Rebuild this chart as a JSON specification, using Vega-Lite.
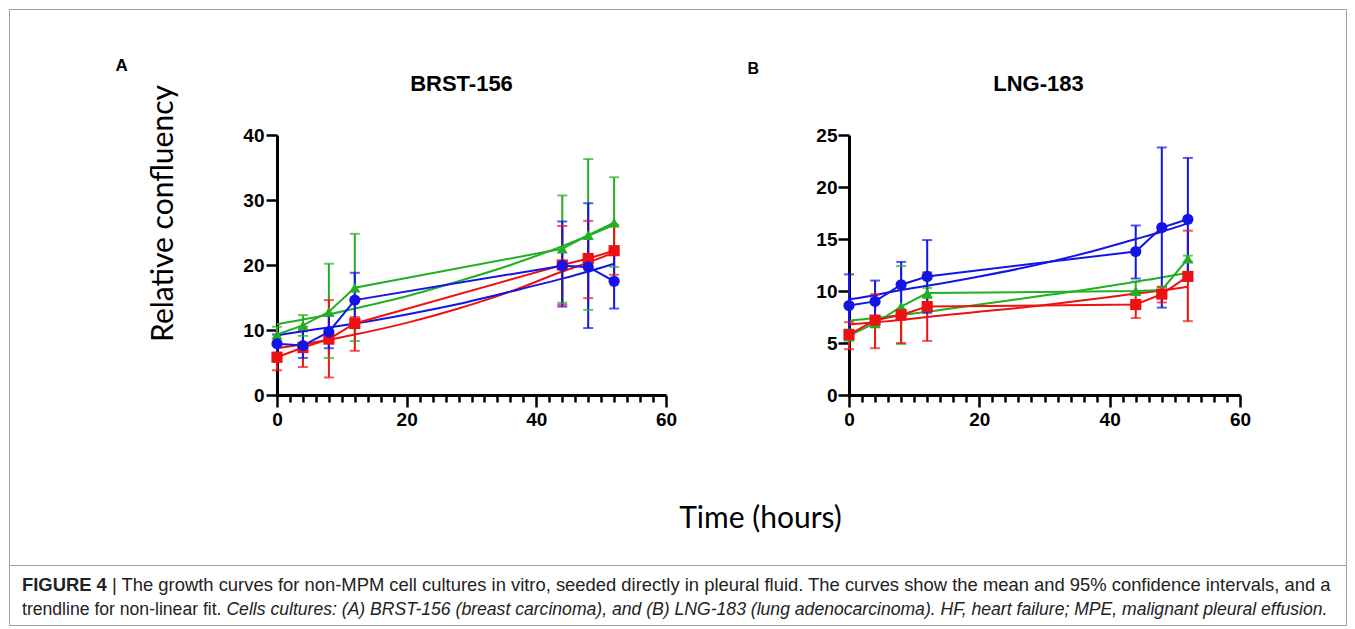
{
  "$schema": "https://vega.github.io/schema/vega-lite/v6.json",
  "background": "white",
  "padding": {"left": 6, "top": 6, "right": 0, "bottom": 0},
  "config": {"view": {"stroke": null}, "axis": {"grid": false}},
  "datasets": {
    "pts": [
      {"p": "A", "s": "g", "t": 0, "m": 9.3, "lo": 8.2, "hi": 10.5},
      {"p": "A", "s": "g", "t": 4, "m": 10.7, "lo": 9.1, "hi": 12.3},
      {"p": "A", "s": "g", "t": 8, "m": 12.8, "lo": 5.7, "hi": 20.2},
      {"p": "A", "s": "g", "t": 12, "m": 16.5, "lo": 8.3, "hi": 24.8},
      {"p": "A", "s": "g", "t": 44, "m": 22.5, "lo": 14.2, "hi": 30.7},
      {"p": "A", "s": "g", "t": 48, "m": 24.6, "lo": 13.1, "hi": 36.3},
      {"p": "A", "s": "g", "t": 52, "m": 26.5, "lo": 19.7, "hi": 33.5},
      {"p": "A", "s": "r", "t": 0, "m": 5.8, "lo": 3.8, "hi": 7.8},
      {"p": "A", "s": "r", "t": 4, "m": 7.3, "lo": 4.3, "hi": 10.5},
      {"p": "A", "s": "r", "t": 8, "m": 8.6, "lo": 2.7, "hi": 14.6},
      {"p": "A", "s": "r", "t": 12, "m": 11.0, "lo": 6.8, "hi": 12.0},
      {"p": "A", "s": "r", "t": 44, "m": 20.0, "lo": 13.9, "hi": 26.0},
      {"p": "A", "s": "r", "t": 48, "m": 21.0, "lo": 14.9, "hi": 26.8},
      {"p": "A", "s": "r", "t": 52, "m": 22.2, "lo": 18.5, "hi": 26.2},
      {"p": "A", "s": "b", "t": 0, "m": 7.9, "lo": 6.5, "hi": 9.3},
      {"p": "A", "s": "b", "t": 4, "m": 7.6, "lo": 5.7, "hi": 9.8},
      {"p": "A", "s": "b", "t": 8, "m": 9.7, "lo": 7.2, "hi": 12.2},
      {"p": "A", "s": "b", "t": 12, "m": 14.6, "lo": 10.3, "hi": 18.8},
      {"p": "A", "s": "b", "t": 44, "m": 19.9, "lo": 13.6, "hi": 26.7},
      {"p": "A", "s": "b", "t": 48, "m": 19.7, "lo": 10.3, "hi": 29.5},
      {"p": "A", "s": "b", "t": 52, "m": 17.5, "lo": 13.3, "hi": 21.8},
      {"p": "B", "s": "g", "t": 0, "m": 5.7, "lo": 5.2, "hi": 6.3},
      {"p": "B", "s": "g", "t": 4, "m": 6.9, "lo": 6.5, "hi": 7.4},
      {"p": "B", "s": "g", "t": 8, "m": 8.5, "lo": 4.9, "hi": 12.4},
      {"p": "B", "s": "g", "t": 12, "m": 9.8, "lo": 9.3, "hi": 10.3},
      {"p": "B", "s": "g", "t": 44, "m": 10.0, "lo": 9.6, "hi": 10.9},
      {"p": "B", "s": "g", "t": 48, "m": 10.1, "lo": 9.8, "hi": 10.4},
      {"p": "B", "s": "g", "t": 52, "m": 13.1, "lo": 12.8, "hi": 13.4},
      {"p": "B", "s": "r", "t": 0, "m": 5.8, "lo": 4.4, "hi": 7.0},
      {"p": "B", "s": "r", "t": 4, "m": 7.2, "lo": 4.5, "hi": 9.7},
      {"p": "B", "s": "r", "t": 8, "m": 7.7, "lo": 5.0, "hi": 8.2},
      {"p": "B", "s": "r", "t": 12, "m": 8.5, "lo": 5.2, "hi": 11.8},
      {"p": "B", "s": "r", "t": 44, "m": 8.7, "lo": 7.4, "hi": 9.9},
      {"p": "B", "s": "r", "t": 48, "m": 9.7, "lo": 8.9, "hi": 10.4},
      {"p": "B", "s": "r", "t": 52, "m": 11.4, "lo": 7.1, "hi": 15.8},
      {"p": "B", "s": "b", "t": 0, "m": 8.6, "lo": 5.5, "hi": 11.6},
      {"p": "B", "s": "b", "t": 4, "m": 9.0, "lo": 7.0, "hi": 11.0},
      {"p": "B", "s": "b", "t": 8, "m": 10.6, "lo": 8.2, "hi": 12.8},
      {"p": "B", "s": "b", "t": 12, "m": 11.4, "lo": 7.9, "hi": 14.9},
      {"p": "B", "s": "b", "t": 44, "m": 13.8, "lo": 11.2, "hi": 16.3},
      {"p": "B", "s": "b", "t": 48, "m": 16.1, "lo": 8.4, "hi": 23.8},
      {"p": "B", "s": "b", "t": 52, "m": 16.9, "lo": 11.0, "hi": 22.8}
    ],
    "trend": [
      {"p": "A", "s": "g", "t": 0, "m": 10.9}, {"p": "A", "s": "g", "t": 4, "m": 11.6}, {"p": "A", "s": "g", "t": 8, "m": 12.4}, {"p": "A", "s": "g", "t": 12, "m": 13.3}, {"p": "A", "s": "g", "t": 20, "m": 15.2}, {"p": "A", "s": "g", "t": 28, "m": 17.5}, {"p": "A", "s": "g", "t": 36, "m": 20.0}, {"p": "A", "s": "g", "t": 44, "m": 22.9}, {"p": "A", "s": "g", "t": 48, "m": 24.5}, {"p": "A", "s": "g", "t": 52, "m": 26.2},
      {"p": "A", "s": "r", "t": 0, "m": 7.2}, {"p": "A", "s": "r", "t": 4, "m": 7.8}, {"p": "A", "s": "r", "t": 8, "m": 8.5}, {"p": "A", "s": "r", "t": 12, "m": 9.3}, {"p": "A", "s": "r", "t": 20, "m": 11.1}, {"p": "A", "s": "r", "t": 28, "m": 13.3}, {"p": "A", "s": "r", "t": 36, "m": 15.9}, {"p": "A", "s": "r", "t": 44, "m": 19.0}, {"p": "A", "s": "r", "t": 48, "m": 20.4}, {"p": "A", "s": "r", "t": 52, "m": 21.9},
      {"p": "A", "s": "b", "t": 0, "m": 9.2}, {"p": "A", "s": "b", "t": 4, "m": 9.8}, {"p": "A", "s": "b", "t": 8, "m": 10.4}, {"p": "A", "s": "b", "t": 12, "m": 11.0}, {"p": "A", "s": "b", "t": 20, "m": 12.4}, {"p": "A", "s": "b", "t": 28, "m": 14.0}, {"p": "A", "s": "b", "t": 36, "m": 15.9}, {"p": "A", "s": "b", "t": 44, "m": 17.9}, {"p": "A", "s": "b", "t": 48, "m": 19.0}, {"p": "A", "s": "b", "t": 52, "m": 20.2},
      {"p": "B", "s": "g", "t": 0, "m": 7.15}, {"p": "B", "s": "g", "t": 4, "m": 7.4}, {"p": "B", "s": "g", "t": 8, "m": 7.7}, {"p": "B", "s": "g", "t": 12, "m": 8.0}, {"p": "B", "s": "g", "t": 20, "m": 8.7}, {"p": "B", "s": "g", "t": 28, "m": 9.4}, {"p": "B", "s": "g", "t": 36, "m": 10.1}, {"p": "B", "s": "g", "t": 44, "m": 10.9}, {"p": "B", "s": "g", "t": 48, "m": 11.3}, {"p": "B", "s": "g", "t": 52, "m": 11.75},
      {"p": "B", "s": "r", "t": 0, "m": 6.77}, {"p": "B", "s": "r", "t": 4, "m": 7.0}, {"p": "B", "s": "r", "t": 8, "m": 7.2}, {"p": "B", "s": "r", "t": 12, "m": 7.5}, {"p": "B", "s": "r", "t": 20, "m": 8.0}, {"p": "B", "s": "r", "t": 28, "m": 8.5}, {"p": "B", "s": "r", "t": 36, "m": 9.1}, {"p": "B", "s": "r", "t": 44, "m": 9.75}, {"p": "B", "s": "r", "t": 48, "m": 10.05}, {"p": "B", "s": "r", "t": 52, "m": 10.4},
      {"p": "B", "s": "b", "t": 0, "m": 9.2}, {"p": "B", "s": "b", "t": 4, "m": 9.6}, {"p": "B", "s": "b", "t": 8, "m": 10.1}, {"p": "B", "s": "b", "t": 12, "m": 10.5}, {"p": "B", "s": "b", "t": 20, "m": 11.4}, {"p": "B", "s": "b", "t": 28, "m": 12.4}, {"p": "B", "s": "b", "t": 36, "m": 13.6}, {"p": "B", "s": "b", "t": 44, "m": 15.0}, {"p": "B", "s": "b", "t": 48, "m": 15.7}, {"p": "B", "s": "b", "t": 52, "m": 16.5}
    ],
    "caption": [
      {"line": 1, "part": 1, "text": "FIGURE 4"},
      {"line": 1, "part": 2, "text": "| The growth curves for non-MPM cell cultures in vitro, seeded directly in pleural fluid. The curves show the mean and 95% confidence intervals, and a"},
      {"line": 2, "part": 1, "text": "trendline for non-linear fit."},
      {"line": 2, "part": 2, "text": "Cells cultures: (A) BRST-156 (breast carcinoma), and (B) LNG-183 (lung adenocarcinoma). HF, heart failure; MPE, malignant pleural effusion."}
    ]
  },
  "bounds": "flush",
  "spacing": 430,
  "vconcat": [
    {
      "bounds": "flush",
      "spacing": 183,
      "hconcat": [
        {
          "width": 85,
          "height": 260,
          "data": {"values": [{"k": 0}, {"k": 1}]},
          "resolve": {"axis": {"y": "independent"}},
          "layer": [
            {
              "mark": {"type": "point", "opacity": 0},
              "encoding": {
                "x": {
                  "field": "k", "type": "quantitative",
                  "scale": {"domain": [0, 1], "range": [0, 1337]},
                  "axis": {"orient": "top", "offset": 126, "domainColor": "#a0a0a0", "domainWidth": 1, "ticks": false, "labels": false, "title": null}
                },
                "y": {
                  "field": "k", "type": "quantitative",
                  "scale": {"domain": [0, 1], "range": [430, -126]},
                  "axis": {
                    "orient": "left", "domainColor": "#a0a0a0", "domainWidth": 1, "ticks": false, "labels": false,
                    "title": "A", "titleFont": "Liberation Sans", "titleFontSize": 17, "titleFontWeight": "bold", "titleColor": "black",
                    "titleAngle": 0, "titleX": 106, "titleY": -65, "titleAlign": "left", "titleBaseline": "alphabetic"
                  }
                }
              }
            },
            {
              "mark": {"type": "point", "opacity": 0},
              "encoding": {
                "y": {
                  "field": "k", "type": "quantitative",
                  "scale": {"domain": [0, 1], "range": [430, -126]},
                  "axis": {"orient": "right", "offset": 1252, "domainColor": "#a0a0a0", "domainWidth": 1, "ticks": false, "labels": false, "title": null}
                }
              }
            }
          ]
        },
        {
          "width": 389,
          "height": 260,
          "title": {"text": "BRST-156", "anchor": "middle", "frame": "group", "dx": -10, "offset": -28.5, "baseline": "alphabetic", "font": "Liberation Sans", "fontSize": 22, "fontWeight": "bold", "color": "black"},
          "encoding": {
            "x": {
              "field": "t", "type": "quantitative",
              "scale": {"domain": [0, 60], "nice": false, "zero": false},
              "axis": {
                "values": [0, 2, 4, 6, 8, 10, 12, 14, 16, 18, 20, 22, 24, 26, 28, 30, 32, 34, 36, 38, 40, 42, 44, 46, 48, 50, 52, 54, 56, 58, 60],
                "labelExpr": "datum.value % 20 === 0 ? datum.label : ''",
                "labelOverlap": false, "labelFlush": false,
                "tickSize": {"condition": {"test": "datum.value % 20 === 0", "value": 12}, "value": 7},
                "tickWidth": 2.5, "tickColor": "black", "domainColor": "black", "domainWidth": 3,
                "labelFont": "Liberation Sans", "labelFontSize": 19, "labelFontWeight": "bold", "labelColor": "black", "labelPadding": 3,
                "title": "Time (hours)", "titleFont": "Lato", "titleFontSize": 30, "titleFontWeight": "normal", "titleColor": "black",
                "titleX": 483, "titleY": 132, "titleAlign": "center", "titleBaseline": "alphabetic"
              }
            },
            "y": {
              "field": "m", "type": "quantitative",
              "scale": {"domain": [0, 40], "nice": false},
              "axis": {
                "values": [0, 10, 20, 30, 40], "tickSize": 11, "tickWidth": 2.5, "tickColor": "black", "domainColor": "black", "domainWidth": 3,
                "labelFont": "Liberation Sans", "labelFontSize": 19, "labelFontWeight": "bold", "labelColor": "black", "labelPadding": 2,
                "title": "Relative confluency", "titleFont": "Lato", "titleFontSize": 30, "titleFontWeight": "normal", "titleColor": "black",
                "titleAngle": -90, "titleX": -105, "titleY": 78, "titleAlign": "center", "titleBaseline": "alphabetic"
              }
            },
            "color": {"field": "s", "type": "nominal", "scale": {"domain": ["g", "r", "b"], "range": ["#22b022", "#ee1111", "#1414e6"]}, "legend": null}
          },
          "layer": [
            {
              "data": {"name": "trend"},
              "transform": [{"filter": "datum.p === 'A'"}],
              "mark": {"type": "line", "strokeWidth": 2, "interpolate": "monotone"}
            },
            {
              "data": {"name": "pts"},
              "transform": [{"filter": "datum.p === 'A'"}],
              "mark": {"type": "rule", "strokeWidth": 2},
              "encoding": {
                "y": {"field": "lo", "type": "quantitative", "scale": {"domain": [0, 40], "nice": false}, "title": "Relative confluency"},
                "y2": {"field": "hi"}
              }
            },
            {
              "data": {"name": "pts"},
              "transform": [{"filter": "datum.p === 'A'"}],
              "mark": {"type": "tick", "orient": "horizontal", "size": 10, "thickness": 2},
              "encoding": {
                "y": {"field": "lo", "type": "quantitative", "scale": {"domain": [0, 40], "nice": false}, "title": "Relative confluency"}
              }
            },
            {
              "data": {"name": "pts"},
              "transform": [{"filter": "datum.p === 'A'"}],
              "mark": {"type": "tick", "orient": "horizontal", "size": 10, "thickness": 2},
              "encoding": {
                "y": {"field": "hi", "type": "quantitative", "scale": {"domain": [0, 40], "nice": false}, "title": "Relative confluency"}
              }
            },
            {
              "data": {"name": "pts"},
              "transform": [{"filter": "datum.p === 'A'"}],
              "mark": {"type": "line", "strokeWidth": 2}
            },
            {
              "data": {"name": "pts"},
              "transform": [{"filter": "datum.p === 'A'"}],
              "mark": {"type": "point", "filled": true, "opacity": 1, "size": 125},
              "encoding": {
                "shape": {"field": "s", "type": "nominal", "scale": {"domain": ["g", "r", "b"], "range": ["triangle-up", "square", "circle"]}, "legend": null}
              }
            }
          ]
        },
        {
          "width": 391,
          "height": 260,
          "title": {"text": "LNG-183", "anchor": "middle", "frame": "group", "dx": -6, "offset": -52.5, "baseline": "alphabetic", "font": "Liberation Sans", "fontSize": 22, "fontWeight": "bold", "color": "black"},
          "encoding": {
            "x": {
              "field": "t", "type": "quantitative",
              "scale": {"domain": [0, 60], "nice": false, "zero": false},
              "axis": {
                "values": [0, 2, 4, 6, 8, 10, 12, 14, 16, 18, 20, 22, 24, 26, 28, 30, 32, 34, 36, 38, 40, 42, 44, 46, 48, 50, 52, 54, 56, 58, 60],
                "labelExpr": "datum.value % 20 === 0 ? datum.label : ''",
                "labelOverlap": false, "labelFlush": false,
                "tickSize": {"condition": {"test": "datum.value % 20 === 0", "value": 12}, "value": 7},
                "tickWidth": 2.5, "tickColor": "black", "domainColor": "black", "domainWidth": 3,
                "labelFont": "Liberation Sans", "labelFontSize": 19, "labelFontWeight": "bold", "labelColor": "black", "labelPadding": 3,
                "title": null
              }
            },
            "y": {
              "field": "m", "type": "quantitative",
              "scale": {"domain": [0, 25], "nice": false},
              "axis": {
                "values": [0, 5, 10, 15, 20, 25], "tickSize": 11, "tickWidth": 2.5, "tickColor": "black", "domainColor": "black", "domainWidth": 3,
                "labelFont": "Liberation Sans", "labelFontSize": 19, "labelFontWeight": "bold", "labelColor": "black", "labelPadding": 1,
                "title": "B", "titleFont": "Liberation Sans", "titleFontSize": 16, "titleFontWeight": "bold", "titleColor": "black",
                "titleAngle": 0, "titleX": -102, "titleY": -62, "titleAlign": "left", "titleBaseline": "alphabetic"
              }
            },
            "color": {"field": "s", "type": "nominal", "scale": {"domain": ["g", "r", "b"], "range": ["#22b022", "#ee1111", "#1414e6"]}, "legend": null}
          },
          "layer": [
            {
              "data": {"name": "trend"},
              "transform": [{"filter": "datum.p === 'B'"}],
              "mark": {"type": "line", "strokeWidth": 2, "interpolate": "monotone"}
            },
            {
              "data": {"name": "pts"},
              "transform": [{"filter": "datum.p === 'B'"}],
              "mark": {"type": "rule", "strokeWidth": 2},
              "encoding": {
                "y": {"field": "lo", "type": "quantitative", "scale": {"domain": [0, 25], "nice": false}, "title": "B"},
                "y2": {"field": "hi"}
              }
            },
            {
              "data": {"name": "pts"},
              "transform": [{"filter": "datum.p === 'B'"}],
              "mark": {"type": "tick", "orient": "horizontal", "size": 10, "thickness": 2},
              "encoding": {
                "y": {"field": "lo", "type": "quantitative", "scale": {"domain": [0, 25], "nice": false}, "title": "B"}
              }
            },
            {
              "data": {"name": "pts"},
              "transform": [{"filter": "datum.p === 'B'"}],
              "mark": {"type": "tick", "orient": "horizontal", "size": 10, "thickness": 2},
              "encoding": {
                "y": {"field": "hi", "type": "quantitative", "scale": {"domain": [0, 25], "nice": false}, "title": "B"}
              }
            },
            {
              "data": {"name": "pts"},
              "transform": [{"filter": "datum.p === 'B'"}],
              "mark": {"type": "line", "strokeWidth": 2}
            },
            {
              "data": {"name": "pts"},
              "transform": [{"filter": "datum.p === 'B'"}],
              "mark": {"type": "point", "filled": true, "opacity": 1, "size": 125},
              "encoding": {
                "shape": {"field": "s", "type": "nominal", "scale": {"domain": ["g", "r", "b"], "range": ["triangle-up", "square", "circle"]}, "legend": null}
              }
            }
          ]
        }
      ]
    },
    {
      "width": 1337,
      "height": 60,
      "view": {"stroke": "#a0a0a0", "strokeWidth": 1},
      "data": {"name": "caption"},
      "encoding": {
        "x": {"datum": 0, "type": "quantitative", "scale": {"domain": [0, 1]}, "axis": null},
        "y": {"field": "line", "type": "ordinal", "scale": {"domain": [1, 2], "padding": 0.7}, "axis": null},
        "text": {"field": "text"}
      },
      "layer": [
        {
          "transform": [{"filter": "datum.line === 1 && datum.part === 1"}],
          "mark": {"type": "text", "align": "left", "baseline": "middle", "dx": 13, "dy": 2, "font": "Liberation Sans", "fontSize": 18.4, "fontWeight": "bold", "color": "#222222"}
        },
        {
          "transform": [{"filter": "datum.line === 1 && datum.part === 2"}],
          "mark": {"type": "text", "align": "left", "baseline": "middle", "dx": 103, "dy": 2, "font": "Liberation Sans", "fontSize": 18.4, "color": "#222222"}
        },
        {
          "transform": [{"filter": "datum.line === 2 && datum.part === 1"}],
          "mark": {"type": "text", "align": "left", "baseline": "middle", "dx": 13, "dy": 2, "font": "Liberation Sans", "fontSize": 17.6, "color": "#222222"}
        },
        {
          "transform": [{"filter": "datum.line === 2 && datum.part === 2"}],
          "mark": {"type": "text", "align": "left", "baseline": "middle", "dx": 217.4, "dy": 2, "font": "Liberation Sans", "fontSize": 17.6, "fontStyle": "italic", "color": "#222222"}
        }
      ]
    }
  ]
}
